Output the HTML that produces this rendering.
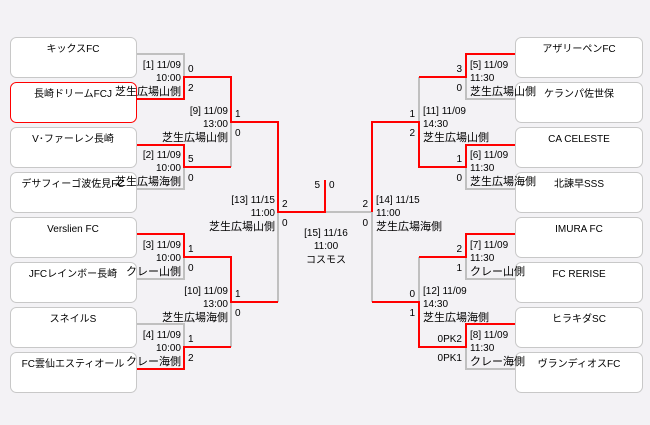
<!DOCTYPE html>
<html><head><meta charset="utf-8"><style>
html,body{margin:0;padding:0;background:#f3f2f5;}
svg{display:block;}
text{font-family:"Liberation Sans","Noto Sans CJK JP",sans-serif;font-size:10px;fill:#000;}
.j{font-size:11px;}
.t{font-size:10px;}
</style></head><body>
<svg width="650" height="425" viewBox="0 0 650 425" xmlns="http://www.w3.org/2000/svg">
<rect width="650" height="425" fill="#f3f2f5"/>
<g fill="#fff" stroke="#c8c8c8" stroke-width="1">
<rect x="10.5" y="37.5" width="126" height="40" rx="6"/>
<rect x="10.5" y="82.5" width="126" height="40" rx="6" stroke="#ff0000"/>
<rect x="10.5" y="127.5" width="126" height="40" rx="6"/>
<rect x="10.5" y="172.5" width="126" height="40" rx="6"/>
<rect x="10.5" y="217.5" width="126" height="40" rx="6"/>
<rect x="10.5" y="262.5" width="126" height="40" rx="6"/>
<rect x="10.5" y="307.5" width="126" height="40" rx="6"/>
<rect x="10.5" y="352.5" width="126" height="40" rx="6"/>
<rect x="515.5" y="37.5" width="127" height="40" rx="6"/>
<rect x="515.5" y="82.5" width="127" height="40" rx="6"/>
<rect x="515.5" y="127.5" width="127" height="40" rx="6"/>
<rect x="515.5" y="172.5" width="127" height="40" rx="6"/>
<rect x="515.5" y="217.5" width="127" height="40" rx="6"/>
<rect x="515.5" y="262.5" width="127" height="40" rx="6"/>
<rect x="515.5" y="307.5" width="127" height="40" rx="6"/>
<rect x="515.5" y="352.5" width="127" height="40" rx="6"/>
</g>
<g fill="none" stroke-width="2" stroke="#c0c0c0">
<polyline points="137,54 184,54 184,77"/>
<polyline points="137,189 184,189 184,167"/>
<polyline points="231,122 231,167"/>
<polyline points="137,279 184,279 184,257"/>
<polyline points="137,324 184,324 184,347"/>
<polyline points="231,302 231,347"/>
<polyline points="278,212 278,302"/>
<polyline points="325,212 372,212 372,302"/>
<polyline points="419,77 419,122"/>
<polyline points="515,189 466,189 466,167"/>
<polyline points="515,99 466,99 466,77"/>
<polyline points="419,257 419,302"/>
<polyline points="515,279 466,279 466,257"/>
<polyline points="515,369 466,369 466,347"/>
</g>
<g fill="none" stroke-width="2" stroke="#ff0000">
<polyline points="137,99 184,99 184,77 231,77 231,122 278,122 278,212 325,212 325,180"/>
<polyline points="137,145 184,145 184,167 231,167"/>
<polyline points="137,234 184,234 184,257 231,257 231,302 278,302"/>
<polyline points="137,369 184,369 184,347 231,347"/>
<polyline points="372,212 372,122 419,122 419,167 466,167 466,145 515,145"/>
<polyline points="515,54 466,54 466,77 419,77"/>
<polyline points="372,302 419,302 419,347 466,347 466,324 515,324"/>
<polyline points="515,234 466,234 466,257 419,257"/>
</g>
<g text-anchor="middle" class="t">
<text x="73" y="52">キックスFC</text>
<text x="73" y="97">長崎ドリームFCJ</text>
<text x="73" y="142">V･ファーレン長崎</text>
<text x="73" y="187">デサフィーゴ波佐見FC</text>
<text x="73" y="232">Verslien FC</text>
<text x="73" y="277">JFCレインボー長崎</text>
<text x="73" y="322">スネイルS</text>
<text x="73" y="367">FC雲仙エスティオール</text>
<text x="579" y="52">アザリーペンFC</text>
<text x="579" y="97">ケランパ佐世保</text>
<text x="579" y="142">CA CELESTE</text>
<text x="579" y="187">北諫早SSS</text>
<text x="579" y="232">IMURA FC</text>
<text x="579" y="277">FC RERISE</text>
<text x="579" y="322">ヒラキダSC</text>
<text x="579" y="367">ヴランディオスFC</text>
</g>
<g text-anchor="end">
<text x="181" y="68">[1] 11/09</text><text x="181" y="81">10:00</text><text class="j" x="181" y="95">芝生広場山側</text>
<text x="181" y="158">[2] 11/09</text><text x="181" y="171">10:00</text><text class="j" x="181" y="185">芝生広場海側</text>
<text x="181" y="248">[3] 11/09</text><text x="181" y="261">10:00</text><text class="j" x="181" y="275">クレー山側</text>
<text x="181" y="338">[4] 11/09</text><text x="181" y="351">10:00</text><text class="j" x="181" y="365">クレー海側</text>
<text x="228" y="114">[9] 11/09</text><text x="228" y="127">13:00</text><text class="j" x="228" y="141">芝生広場山側</text>
<text x="228" y="294">[10] 11/09</text><text x="228" y="307">13:00</text><text class="j" x="228" y="321">芝生広場海側</text>
<text x="275" y="203">[13] 11/15</text><text x="275" y="216">11:00</text><text class="j" x="275" y="230">芝生広場山側</text>
<text x="462" y="72">3</text><text x="462" y="91">0</text>
<text x="462" y="162">1</text><text x="462" y="181">0</text>
<text x="462" y="252">2</text><text x="462" y="271">1</text>
<text x="462" y="342">0PK2</text><text x="462" y="361">0PK1</text>
<text x="415" y="117">1</text><text x="415" y="136">2</text>
<text x="415" y="297">0</text><text x="415" y="316">1</text>
<text x="368" y="207">2</text><text x="368" y="226">0</text>
<text x="320" y="188">5</text>
</g>
<g text-anchor="start">
<text x="188" y="72">0</text><text x="188" y="91">2</text>
<text x="188" y="162">5</text><text x="188" y="181">0</text>
<text x="188" y="252">1</text><text x="188" y="271">0</text>
<text x="188" y="342">1</text><text x="188" y="361">2</text>
<text x="235" y="117">1</text><text x="235" y="136">0</text>
<text x="235" y="297">1</text><text x="235" y="316">0</text>
<text x="282" y="207">2</text><text x="282" y="226">0</text>
<text x="329" y="188">0</text>
<text x="470" y="68">[5] 11/09</text><text x="470" y="81">11:30</text><text class="j" x="470" y="95">芝生広場山側</text>
<text x="470" y="158">[6] 11/09</text><text x="470" y="171">11:30</text><text class="j" x="470" y="185">芝生広場海側</text>
<text x="470" y="248">[7] 11/09</text><text x="470" y="261">11:30</text><text class="j" x="470" y="275">クレー山側</text>
<text x="470" y="338">[8] 11/09</text><text x="470" y="351">11:30</text><text class="j" x="470" y="365">クレー海側</text>
<text x="423" y="114">[11] 11/09</text><text x="423" y="127">14:30</text><text class="j" x="423" y="141">芝生広場山側</text>
<text x="423" y="294">[12] 11/09</text><text x="423" y="307">14:30</text><text class="j" x="423" y="321">芝生広場海側</text>
<text x="376" y="203">[14] 11/15</text><text x="376" y="216">11:00</text><text class="j" x="376" y="230">芝生広場海側</text>
</g>
<g text-anchor="middle">
<text x="326" y="236">[15] 11/16</text><text x="326" y="249">11:00</text><text x="326" y="263">コスモス</text>
</g>
</svg>
</body></html>
